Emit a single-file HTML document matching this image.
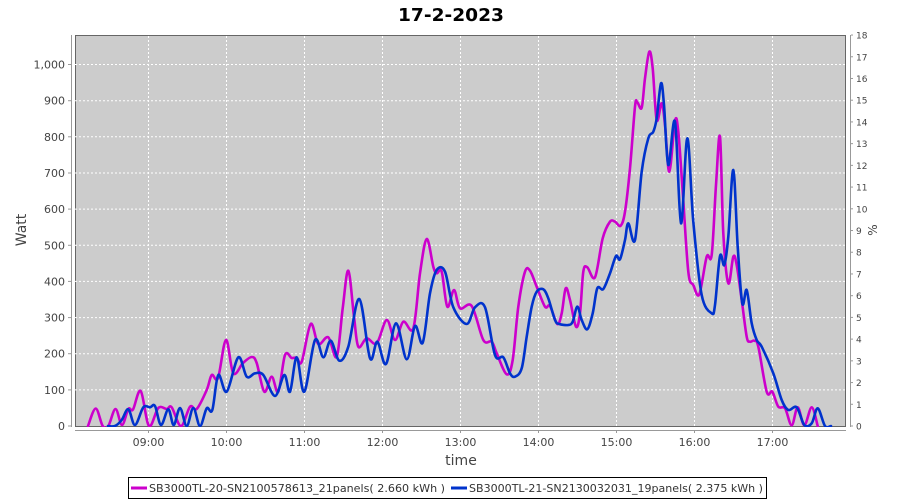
<!DOCTYPE html>
<html><head><meta charset="utf-8">
<style>
html,body{margin:0;padding:0;background:#fff;}
svg{display:block;}
text{font-family:"DejaVu Sans","Liberation Sans",sans-serif;}
</style></head>
<body>
<svg id="c" width="900" height="500" viewBox="0 0 900 500" xmlns="http://www.w3.org/2000/svg">
<defs><clipPath id="pc"><rect x="75" y="35" width="771" height="392"/></clipPath></defs>
<rect x="0" y="0" width="900" height="500" fill="#fff"/>
<text x="451" y="21" font-size="18" font-weight="bold" text-anchor="middle" fill="#000" textLength="106" lengthAdjust="spacingAndGlyphs">17-2-2023</text>
<rect x="75.5" y="35.5" width="770" height="391" fill="#cccccc" stroke="#666" stroke-width="1"/>
<g stroke="#fff" stroke-width="1" stroke-dasharray="2,2" fill="none">
<line x1="75" x2="846" y1="389.9" y2="389.9"/>
<line x1="75" x2="846" y1="353.7" y2="353.7"/>
<line x1="75" x2="846" y1="317.6" y2="317.6"/>
<line x1="75" x2="846" y1="281.4" y2="281.4"/>
<line x1="75" x2="846" y1="245.3" y2="245.3"/>
<line x1="75" x2="846" y1="209.1" y2="209.1"/>
<line x1="75" x2="846" y1="173.0" y2="173.0"/>
<line x1="75" x2="846" y1="136.8" y2="136.8"/>
<line x1="75" x2="846" y1="100.7" y2="100.7"/>
<line x1="75" x2="846" y1="64.5" y2="64.5"/>
<line y1="36" y2="426" x1="148.5" x2="148.5"/>
<line y1="36" y2="426" x1="226.5" x2="226.5"/>
<line y1="36" y2="426" x1="304.5" x2="304.5"/>
<line y1="36" y2="426" x1="382.5" x2="382.5"/>
<line y1="36" y2="426" x1="460.5" x2="460.5"/>
<line y1="36" y2="426" x1="538.5" x2="538.5"/>
<line y1="36" y2="426" x1="616.5" x2="616.5"/>
<line y1="36" y2="426" x1="694.5" x2="694.5"/>
<line y1="36" y2="426" x1="772.5" x2="772.5"/>
</g>
<!-- axes -->
<g stroke="#999" stroke-width="1">
<line x1="71.5" x2="71.5" y1="35" y2="427"/>
<line x1="75" x2="846" y1="430.5" y2="430.5"/>
<line x1="850.5" x2="850.5" y1="35" y2="427"/>
<line x1="68" x2="71" y1="426" y2="426"/>
<line x1="68" x2="71" y1="389.9" y2="389.9"/>
<line x1="68" x2="71" y1="353.7" y2="353.7"/>
<line x1="68" x2="71" y1="317.6" y2="317.6"/>
<line x1="68" x2="71" y1="281.4" y2="281.4"/>
<line x1="68" x2="71" y1="245.3" y2="245.3"/>
<line x1="68" x2="71" y1="209.1" y2="209.1"/>
<line x1="68" x2="71" y1="173.0" y2="173.0"/>
<line x1="68" x2="71" y1="136.8" y2="136.8"/>
<line x1="68" x2="71" y1="100.7" y2="100.7"/>
<line x1="68" x2="71" y1="64.5" y2="64.5"/>
<line y1="431" y2="433" x1="148.5" x2="148.5"/>
<line y1="431" y2="433" x1="226.5" x2="226.5"/>
<line y1="431" y2="433" x1="304.5" x2="304.5"/>
<line y1="431" y2="433" x1="382.5" x2="382.5"/>
<line y1="431" y2="433" x1="460.5" x2="460.5"/>
<line y1="431" y2="433" x1="538.5" x2="538.5"/>
<line y1="431" y2="433" x1="616.5" x2="616.5"/>
<line y1="431" y2="433" x1="694.5" x2="694.5"/>
<line y1="431" y2="433" x1="772.5" x2="772.5"/>
</g>
<g id="rt" stroke="#999" stroke-width="1"></g>
<g font-size="11" fill="#444" text-anchor="end">
<text x="65" y="430">0</text>
<text x="65" y="393.9">100</text>
<text x="65" y="357.7">200</text>
<text x="65" y="321.6">300</text>
<text x="65" y="285.4">400</text>
<text x="65" y="249.3">500</text>
<text x="65" y="213.1">600</text>
<text x="65" y="177.0">700</text>
<text x="65" y="140.8">800</text>
<text x="65" y="104.7">900</text>
<text x="65" y="68.5">1,000</text>
</g>
<g font-size="11" fill="#444" text-anchor="middle">
<text x="148.5" y="446">09:00</text>
<text x="226.5" y="446">10:00</text>
<text x="304.5" y="446">11:00</text>
<text x="382.5" y="446">12:00</text>
<text x="460.5" y="446">13:00</text>
<text x="538.5" y="446">14:00</text>
<text x="616.5" y="446">15:00</text>
<text x="694.5" y="446">16:00</text>
<text x="772.5" y="446">17:00</text>
</g>
<g id="rl" font-size="9" fill="#444"></g>
<text x="461" y="465" font-size="14" fill="#444" text-anchor="middle">time</text>
<text transform="translate(26,230) rotate(-90)" font-size="14" fill="#444" text-anchor="middle">Watt</text>
<text transform="translate(877,230) rotate(-90)" font-size="12" fill="#444" text-anchor="middle">%</text>
<g clip-path="url(#pc)" fill="none" stroke-width="2.6" stroke-linejoin="round" stroke-linecap="round">
<polyline id="pm" stroke="#cc00cc" points="88,426 95.7,408.5 102.7,426 108.3,426 115.5,409 122,425 128.3,409 133,409.5 140.7,391 149,426 158.3,408 166.7,409 171.7,407.3 181,426 190,406.7 196.7,409 206.7,390 211.7,375 218,378 226,340 233.3,373.3 243,363 251.7,357 256.7,363 264.3,391.7 271.7,376.7 278.3,391.7 285,355 291.7,358 296.7,357.7 301.7,361.7 310.7,324 318.3,344 328.3,337.3 336.7,356.7 342.7,308.3 348.3,270.7 354,316.7 358.3,346.7 366.7,338.3 376.7,343.3 386.7,320 395,340 403.3,321.7 413.3,328.3 420,273.3 426.7,239 433.3,266.7 436.7,273.3 441.7,271.7 447.3,306.7 454,290 460,308.3 471.7,306 483.3,340 491.7,341.7 496.7,353.3 506.7,374.3 512.7,360 518.3,306.7 525,271.7 530,270.7 536.7,286.7 545,306.7 550,306 557.3,324 561.7,313.3 565.7,288.3 570,300 576,326.7 580,313.3 583.3,271.7 587.3,267.3 595,277.3 602.7,238.3 610,221.7 615,221.7 620.7,225.7 625,211.7 630,168.3 635,106.7 637.3,102.3 641.7,107.7 645,78.3 649.3,51.7 652.7,68.3 656.7,120 661.7,103.3 665,125 669.3,171.7 675,121 678.3,131.7 682.7,191.7 688.3,271.7 693.3,285 699.3,294.3 706.7,256.7 711.7,255 716,185 720,136.7 723.3,233.3 728.3,283.3 733.3,256.7 736.7,265 741.7,300 746.7,336.7 750,341.7 754.3,340.7 758.3,346.7 766.7,391.7 772.3,391.7 778.3,406.7 785,408.3 791.7,425.3 797.7,407.3 804.3,425.3 811.7,407.3 817.7,426"/>
<polyline id="pb" stroke="#0033cc" points="108,426 115,426 121.7,420 128.3,409.3 135,425 143.3,407.3 150,407.3 155,406 161,425 168.3,409.3 173.7,425 180,408 186.7,426 193.3,408 200,426 206.7,408.3 212.3,410 218.3,375 226.7,391.7 238.3,357.3 246.7,376.7 255,373.3 263.3,375 275,396 284.3,375 290,391.7 296.7,357.3 304.3,391.7 315,340 323.3,357.3 330.7,340.7 339.3,360.7 348.3,346.7 359.3,299 370,358.3 377.3,341.7 386,364 396,323.3 406.7,359.3 415,326 422.7,342.7 430,293.3 436.7,270 445,271.7 453.3,307.3 466.7,324 475,307.3 485,307.3 495,355 503.3,357.3 510,373.3 515,376.7 521.7,368.3 526.7,336.7 531.7,306.7 536.7,291.7 543.3,289.3 548.3,298.3 555,320 559.3,324 568.3,325 572.7,321.7 577.3,306.7 581.7,320 587.3,329.3 592.7,313.3 597.3,288.3 603.3,289 610,273.3 616,256 620,259.3 625,240 628.3,223.3 635,240 641.7,171.7 648.3,138.3 653.3,131.7 656.7,118.3 661,83.3 664,105 668.3,165 675,121.7 681,223.3 687.3,138.3 693.3,221.7 701.7,295 711.7,313.3 715,305 720,256 724.3,265 728.3,236.7 733.3,170 737.7,246.7 742.3,303.3 746.7,290 751.7,323.3 756.7,340 761.7,346.7 773.3,373.3 781.7,400 788.3,410 796.7,407.3 804.3,425 811.7,423.3 817.7,408.3 825,426 831,426"/>
</g>
<!-- legend -->
<rect x="128.5" y="477.5" width="638" height="21" fill="#fff" stroke="#000" stroke-width="1"/>
<line x1="131" x2="147" y1="488" y2="488" stroke="#cc00cc" stroke-width="3"/>
<text x="149" y="492" font-size="11" fill="#333" textLength="296" lengthAdjust="spacingAndGlyphs">SB3000TL-20-SN2100578613_21panels( 2.660 kWh )</text>
<line x1="451" x2="467" y1="488" y2="488" stroke="#0033cc" stroke-width="3"/>
<text x="469" y="492" font-size="11" fill="#333" textLength="294" lengthAdjust="spacingAndGlyphs">SB3000TL-21-SN2130032031_19panels( 2.375 kWh )</text>
</svg>
<script>
(function(){
var NS="http://www.w3.org/2000/svg";
var rt=document.getElementById('rt'),rl=document.getElementById('rl');
for(var i=0;i<=18;i++){
 var y=426-i*21.72;
 var l=document.createElementNS(NS,'line');
 l.setAttribute('x1',851);l.setAttribute('x2',853);l.setAttribute('y1',y);l.setAttribute('y2',y);
 rt.appendChild(l);
 var t=document.createElementNS(NS,'text');
 t.setAttribute('x',856);t.setAttribute('y',y+3.5);t.textContent=String(i);
 rl.appendChild(t);
}
function smooth(id){
 var pl=document.getElementById(id);
 var raw=pl.getAttribute('points').trim().split(/\s+/).map(function(s){var a=s.split(',');return [parseFloat(a[0]),parseFloat(a[1])];});
 var d='M'+raw[0][0]+','+raw[0][1];
 for(var i=0;i<raw.length-1;i++){
  var p0=raw[i>0?i-1:0],p1=raw[i],p2=raw[i+1],p3=raw[i+2<raw.length?i+2:i+1];
  var c1x=p1[0]+(p2[0]-p0[0])/6,c1y=p1[1]+(p2[1]-p0[1])/6;
  var c2x=p2[0]-(p3[0]-p1[0])/6,c2y=p2[1]-(p3[1]-p1[1])/6;
  d+=' C'+c1x.toFixed(2)+','+c1y.toFixed(2)+' '+c2x.toFixed(2)+','+c2y.toFixed(2)+' '+p2[0]+','+p2[1];
 }
 var p=document.createElementNS(NS,'path');
 p.setAttribute('d',d);p.setAttribute('stroke',pl.getAttribute('stroke'));
 pl.parentNode.insertBefore(p,pl);pl.parentNode.removeChild(pl);
}
smooth('pm');smooth('pb');
})();
</script>
</body></html>
